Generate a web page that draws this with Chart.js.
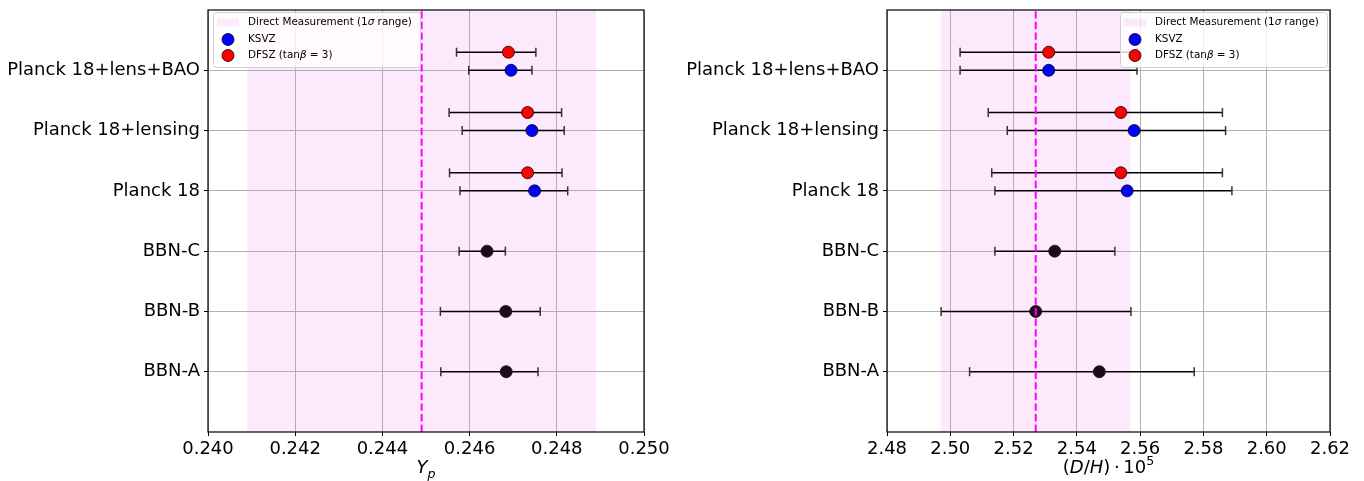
<!DOCTYPE html>
<html>
<head>
<meta charset="utf-8">
<script src="https://cdn.jsdelivr.net/npm/chart.js@4.4.1/dist/chart.umd.min.js"></script>
<style>
  body { margin: 0; background: #fff; }
  #wrap { position: relative; width: 1364px; height: 481px; }
  .panel { position: absolute; top: 0; width: 682px; height: 481px; }
</style>
</head>
<body>
<div id="wrap">
  <div class="panel" style="left:0"><canvas id="ypChart" width="682" height="481"></canvas></div>
  <div class="panel" style="left:682px"><canvas id="dhChart" width="682" height="481"></canvas></div>
</div>
<script>
// rows of the plot, bottom to top
const rowLabels = ['BBN-A', 'BBN-B', 'BBN-C', 'Planck 18', 'Planck 18+lensing', 'Planck 18+lens+BAO'];
const bbnRows = [0, 1, 2];
const planckRows = [3, 4, 5];
const dfszShift = 0.3;

// helium fraction Yp
const ypBbn = [0.24684, 0.24683, 0.24640];
const ypBbnLo = [0.24534, 0.24533, 0.24576];
const ypBbnHi = [0.24757, 0.24762, 0.24682];
const ypKsvz = [0.24749, 0.24743, 0.24695];
const ypKsvzLo = [0.24578, 0.24583, 0.24598];
const ypKsvzHi = [0.24825, 0.24817, 0.24743];
const ypDfsz = [0.24733, 0.24733, 0.24689];
const ypDfszLo = [0.24554, 0.24553, 0.24570];
const ypDfszHi = [0.24812, 0.24811, 0.24752];
const ypDirect = 0.2449;
const ypBand = [0.2409, 0.2489];
const ypTicks = [0.240, 0.242, 0.244, 0.246, 0.248, 0.250];
const ypTickLabels = ['0.240', '0.242', '0.244', '0.246', '0.248', '0.250'];

// deuterium D/H * 1e5
const dhBbn = [2.5471, 2.5270, 2.5330];
const dhBbnLo = [2.5061, 2.4971, 2.5141];
const dhBbnHi = [2.5771, 2.5571, 2.5520];
const dhKsvz = [2.5559, 2.5581, 2.5311];
const dhKsvzLo = [2.5141, 2.5180, 2.5031];
const dhKsvzHi = [2.5890, 2.5870, 2.5590];
const dhDfsz = [2.5539, 2.5539, 2.5311];
const dhDfszLo = [2.5131, 2.5120, 2.5031];
const dhDfszHi = [2.5860, 2.5860, 2.5590];
const dhDirect = 2.527;
const dhBand = [2.497, 2.557];
const dhTicks = [2.48, 2.50, 2.52, 2.54, 2.56, 2.58, 2.60, 2.62];
const dhTickLabels = ['2.48', '2.50', '2.52', '2.54', '2.56', '2.58', '2.60', '2.62'];

const FONT = '"DejaVu Sans", sans-serif';
const BAND_COLOR = 'rgba(238,130,238,0.17)';

function fontFor(s, size) {
  const sz = (s.sub || s.sup) ? size * 0.7 : size;
  return (s.it ? 'italic ' : '') + sz + 'px ' + FONT;
}

// draws text made of pieces (italic, sub, sup)
function drawRich(ctx, segs, x, y, size, center) {
  let w = 0;
  segs.forEach(s => { ctx.font = fontFor(s, size); w += ctx.measureText(s.t).width; });
  let cx = center ? x - w / 2 : x;
  segs.forEach(s => {
    ctx.font = fontFor(s, size);
    const dy = s.sub ? size * 0.28 : (s.sup ? -size * 0.42 : 0);
    ctx.fillText(s.t, cx, y + dy);
    cx += ctx.measureText(s.t).width;
  });
}

function errorBars(rows, lo, hi, shift) {
  return rows.map((r, i) => ({
    type: 'line',
    data: [{ x: lo[i], y: r + shift }, { x: hi[i], y: r + shift }],
    borderColor: '#000',
    borderWidth: 1.5,
    pointStyle: 'line',
    pointRotation: 90,
    pointRadius: 4.5,
    pointBorderColor: '#333',
    pointBorderWidth: 1.5,
    order: 3
  }));
}

function points(rows, vals, shift, color, edge) {
  return {
    type: 'scatter',
    data: rows.map((r, i) => ({ x: vals[i], y: r + shift })),
    backgroundColor: color,
    borderColor: edge,
    borderWidth: 0.8,
    pointRadius: 6,
    order: 2
  };
}

function makeDecor(cfg) {
  return {
    id: 'decor',
    beforeDatasetsDraw(chart) {
      const { ctx, chartArea: ca, scales: { x } } = chart;
      const a = x.getPixelForValue(cfg.band[0]);
      const b = x.getPixelForValue(cfg.band[1]);
      ctx.save();
      ctx.fillStyle = BAND_COLOR;
      ctx.fillRect(a, ca.top, b - a, ca.bottom - ca.top);
      ctx.restore();
    },
    afterDatasetsDraw(chart) {
      const { ctx, chartArea: ca } = chart;
      const w = 207, h = 55;
      const bx = cfg.legendSide === 'left' ? ca.left + 5 : ca.right - 3 - w;
      const by = ca.top + 2;
      ctx.save();
      ctx.beginPath();
      ctx.roundRect(bx + 0.5, by + 0.5, w, h, 3);
      ctx.fillStyle = 'rgba(255,255,255,0.8)';
      ctx.fill();
      ctx.strokeStyle = '#d0d0d0';
      ctx.lineWidth = 1;
      ctx.stroke();

      const rowsY = [by + 10.5, by + 27.5, by + 43.5];
      const tx = bx + 35;
      ctx.fillStyle = BAND_COLOR;
      ctx.fillRect(bx + 4, rowsY[0] - 4, 22, 8);
      [['#0000ff', rowsY[1]], ['#ff0000', rowsY[2]]].forEach(([c, yy]) => {
        ctx.beginPath();
        ctx.arc(bx + 15, yy, 6, 0, Math.PI * 2);
        ctx.fillStyle = c;
        ctx.fill();
        ctx.lineWidth = 0.8;
        ctx.strokeStyle = '#000';
        ctx.stroke();
      });
      ctx.fillStyle = '#000';
      ctx.textBaseline = 'middle';
      drawRich(ctx, [{ t: 'Direct Measurement (1' }, { t: 'σ', it: true }, { t: ' range)' }], tx, rowsY[0], 10.4);
      drawRich(ctx, [{ t: 'KSVZ' }], tx, rowsY[1], 10.4);
      drawRich(ctx, [{ t: 'DFSZ (tan' }, { t: 'β', it: true }, { t: ' = 3)' }], tx, rowsY[2], 10.4);
      ctx.restore();
    },
    afterDraw(chart) {
      const { ctx, chartArea: ca } = chart;
      ctx.save();
      ctx.strokeStyle = '#000';
      ctx.lineWidth = 1.2;
      ctx.strokeRect(ca.left, ca.top, ca.right - ca.left, ca.bottom - ca.top);
      // x axis title
      ctx.fillStyle = '#000';
      ctx.textBaseline = 'alphabetic';
      drawRich(ctx, cfg.title, (ca.left + ca.right) / 2, 473, 18, true);
      ctx.restore();
    }
  };
}

function buildChart(id, d) {
  const ctx = document.getElementById(id).getContext('2d');
  const datasets = [
    {
      type: 'line',
      data: [{ x: d.direct, y: -1 }, { x: d.direct, y: 6 }],
      borderColor: '#ff00ff',
      borderWidth: 2,
      borderDash: [7.4, 3.2],
      pointRadius: 0,
      order: 1
    },
    points(bbnRows, d.bbn, 0, '#1a0a1a', '#1a0a1a'),
    points(planckRows, d.ksvz, 0, '#0000ff', '#000'),
    points(planckRows, d.dfsz, dfszShift, '#ff0000', '#000'),
    ...errorBars(bbnRows, d.bbnLo, d.bbnHi, 0),
    ...errorBars(planckRows, d.ksvzLo, d.ksvzHi, 0),
    ...errorBars(planckRows, d.dfszLo, d.dfszHi, dfszShift)
  ];

  return new Chart(ctx, {
    type: 'scatter',
    data: { datasets },
    options: {
      responsive: false,
      animation: false,
      events: [],
      layout: { padding: { top: 10, right: d.padRight, left: 0, bottom: 0 } },
      plugins: { legend: { display: false }, tooltip: { enabled: false } },
      scales: {
        x: {
          type: 'linear',
          min: d.ticks[0],
          max: d.ticks[d.ticks.length - 1],
          afterBuildTicks: s => { s.ticks = d.ticks.map(v => ({ value: v })); },
          afterFit: s => { s.height = 49; s.paddingTop = 0; },
          border: { display: false },
          grid: { color: '#b0b0b0', lineWidth: 1, tickColor: '#000', tickLength: 4 },
          ticks: {
            color: '#000', font: { family: FONT, size: 18 }, padding: 3,
            maxRotation: 0, minRotation: 0, autoSkip: false,
            callback: (v, i) => d.tickLabels[i]
          }
        },
        y: {
          type: 'linear',
          min: -1,
          max: 6,
          afterBuildTicks: s => { s.ticks = rowLabels.map((l, i) => ({ value: i })); },
          afterFit: s => { s.width = d.yWidth; s.paddingTop = 0; s.paddingBottom = 0; },
          border: { display: false },
          grid: { color: '#b0b0b0', lineWidth: 1, tickColor: '#000', tickLength: 4 },
          ticks: {
            color: '#000', font: { family: FONT, size: 18, lineHeight: 0.8 }, padding: 4, autoSkip: false,
            callback: v => rowLabels[v]
          }
        }
      }
    },
    plugins: [makeDecor({ band: d.band, legendSide: d.legendSide, title: d.title })]
  });
}

buildChart('ypChart', {
  bbn: ypBbn, bbnLo: ypBbnLo, bbnHi: ypBbnHi,
  ksvz: ypKsvz, ksvzLo: ypKsvzLo, ksvzHi: ypKsvzHi,
  dfsz: ypDfsz, dfszLo: ypDfszLo, dfszHi: ypDfszHi,
  direct: ypDirect, band: ypBand, ticks: ypTicks, tickLabels: ypTickLabels,
  yWidth: 208, padRight: 38, legendSide: 'left',
  title: [{ t: 'Y', it: true }, { t: 'p', it: true, sub: true }]
});

buildChart('dhChart', {
  bbn: dhBbn, bbnLo: dhBbnLo, bbnHi: dhBbnHi,
  ksvz: dhKsvz, ksvzLo: dhKsvzLo, ksvzHi: dhKsvzHi,
  dfsz: dhDfsz, dfszLo: dhDfszLo, dfszHi: dhDfszHi,
  direct: dhDirect, band: dhBand, ticks: dhTicks, tickLabels: dhTickLabels,
  yWidth: 205, padRight: 34, legendSide: 'right',
  title: [{ t: '(' }, { t: 'D', it: true }, { t: '/' }, { t: 'H', it: true }, { t: ')\u2009·\u200910' }, { t: '5', sup: true }]
});
</script>
</body>
</html>
